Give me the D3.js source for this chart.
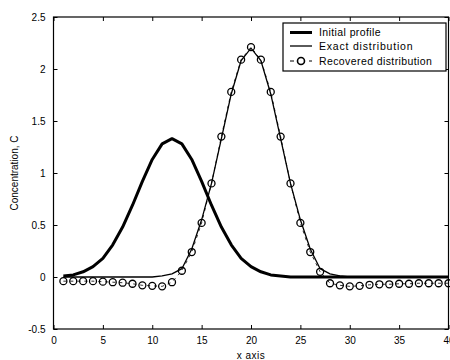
<!DOCTYPE html>
<html>
<head>
<meta charset="utf-8">
<script src="https://cdn.jsdelivr.net/npm/d3@7"></script>
<style>
  html, body { margin: 0; padding: 0; background: #fff; }
  svg { display: block; }
  text { font-family: "Liberation Sans", Arial, sans-serif; fill: #000; }
</style>
</head>
<body>
<svg id="chart" width="450" height="360"></svg>
<script>
// ---- data ----
const xValues = d3.range(1, 41);
const initialProfile = [0.01,0.02,0.05,0.10,0.18,0.31,0.48,0.69,0.92,1.13,
  1.28,1.33,1.28,1.13,0.92,0.69,0.48,0.31,0.18,0.10,
  0.05,0.02,0.01,0,0,0,0,0,0,0,
  0,0,0,0,0,0,0,0,0,0];
const exactDistribution = [0,0,0,0,0,0,0,0,0,0,
  0.01,0.03,0.08,0.27,0.55,0.90,1.33,1.76,2.08,2.20,
  2.08,1.76,1.33,0.90,0.55,0.27,0.08,0.03,0.01,0,
  0,0,0,0,0,0,0,0,0,0];
const recoveredDistribution = [-0.04,-0.04,-0.04,-0.04,-0.045,-0.05,-0.055,-0.065,-0.08,-0.085,
  -0.09,-0.05,0.06,0.24,0.52,0.90,1.35,1.78,2.09,2.21,
  2.09,1.78,1.35,0.90,0.52,0.24,0.05,-0.06,-0.08,-0.09,
  -0.085,-0.075,-0.07,-0.07,-0.065,-0.065,-0.06,-0.06,-0.06,-0.06];
const xTicks = [0,5,10,15,20,25,30,35,40];
const yTicks = [-0.5,0,0.5,1,1.5,2,2.5];
const seriesNames = ["Initial profile","Exact distribution","Recovered distribution"];
const xTitle = "x axis";
const yTitle = "Concentration, C";

// ---- layout ----
const svg = d3.select("#chart");
const L = 53.5, R = 448.5, T = 17, B = 329;
const x = d3.scaleLinear().domain([0, 40]).range([L, R]);
const y = d3.scaleLinear().domain([-0.5, 2.5]).range([B, T]);

// axes (ticks inward)
const fmt = d => String(d);
svg.append("g").attr("transform", `translate(0,${B})`)
  .call(d3.axisBottom(x).tickValues(xTicks).tickFormat(fmt).tickSizeInner(-4).tickSizeOuter(0).tickPadding(8))
  .call(g => g.select(".domain").remove());
svg.append("g").attr("transform", `translate(0,${T})`)
  .call(d3.axisTop(x).tickValues(xTicks).tickFormat("").tickSizeInner(-4).tickSizeOuter(0))
  .call(g => g.select(".domain").remove());
svg.append("g").attr("transform", `translate(${L},0)`)
  .call(d3.axisLeft(y).tickValues(yTicks).tickFormat(fmt).tickSizeInner(-4).tickSizeOuter(0).tickPadding(8))
  .call(g => g.select(".domain").remove());
svg.append("g").attr("transform", `translate(${R},0)`)
  .call(d3.axisRight(y).tickValues(yTicks).tickFormat("").tickSizeInner(-4).tickSizeOuter(0))
  .call(g => g.select(".domain").remove());
svg.selectAll(".tick text").style("font-family", "'Liberation Sans', Arial, sans-serif").style("font-size", "10px").attr("fill", "#000");
svg.selectAll(".tick line").attr("stroke", "#000");

svg.append("rect").attr("x", L).attr("y", T).attr("width", R - L).attr("height", B - T)
  .attr("fill", "none").attr("stroke", "#000").attr("stroke-width", 1.2);

// titles
svg.append("text").attr("x", x(20)).attr("y", 359).attr("text-anchor", "middle")
  .style("font-size", "10px").style("letter-spacing", "0.5px").text(xTitle);
svg.append("text").attr("transform", `translate(18,${(T + B) / 2}) rotate(-90)`)
  .attr("text-anchor", "middle").style("font-size", "10px").text(yTitle);

// lines
const pts = arr => arr.map((v, i) => [xValues[i], v]);
const line = d3.line().x(d => x(d[0])).y(d => y(d[1]));
svg.append("path").attr("d", line(pts(exactDistribution))).attr("fill", "none")
  .attr("stroke", "#000").attr("stroke-width", 1.3);
svg.append("path").attr("d", line(pts(initialProfile))).attr("fill", "none")
  .attr("stroke", "#000").attr("stroke-width", 3).attr("stroke-linejoin", "round");
svg.append("path").attr("d", line(pts(recoveredDistribution))).attr("fill", "none")
  .attr("stroke", "#000").attr("stroke-width", 0.8).attr("stroke-dasharray", "3,4");
svg.append("g").selectAll("circle").data(pts(recoveredDistribution)).join("circle")
  .attr("cx", d => x(d[0])).attr("cy", d => y(d[1])).attr("r", 3.5)
  .attr("fill", "none").attr("stroke", "#000").attr("stroke-width", 1.3);

// legend
const lg = svg.append("g");
lg.append("rect").attr("x", 283).attr("y", 23).attr("width", 163).attr("height", 48)
  .attr("fill", "#fff").attr("stroke", "#000").attr("stroke-width", 1.2);
const rowsY = [32.5, 46, 61];
lg.append("line").attr("x1", 290).attr("x2", 312).attr("y1", rowsY[0]).attr("y2", rowsY[0])
  .attr("stroke", "#000").attr("stroke-width", 3);
lg.append("line").attr("x1", 290).attr("x2", 312).attr("y1", rowsY[1]).attr("y2", rowsY[1])
  .attr("stroke", "#000").attr("stroke-width", 1.3);
lg.append("line").attr("x1", 290).attr("x2", 312).attr("y1", rowsY[2]).attr("y2", rowsY[2])
  .attr("stroke", "#000").attr("stroke-width", 1).attr("stroke-dasharray", "4,15");
lg.append("circle").attr("cx", 301).attr("cy", rowsY[2]).attr("r", 3.5)
  .attr("fill", "#fff").attr("stroke", "#000").attr("stroke-width", 1.6);
seriesNames.forEach((s, i) => {
  lg.append("text").attr("x", 319).attr("y", rowsY[i] + 3.5).style("font-size", "10.5px")
    .style("letter-spacing", i === 1 ? "0.8px" : "0.4px").text(s);
});
</script>
</body>
</html>
